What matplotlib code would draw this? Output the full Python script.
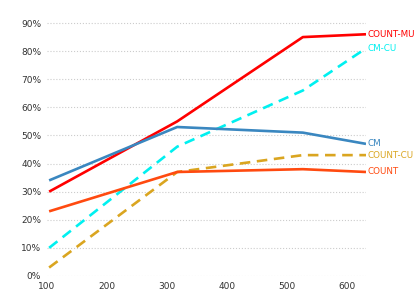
import matplotlib.pyplot as plt
from matplotlib.ticker import PercentFormatter

# data
x = [104, 317, 526, 631]
count_mu = [0.30, 0.55, 0.85, 0.86]
cm_cu = [0.10, 0.46, 0.66, 0.81]
cm = [0.34, 0.53, 0.51, 0.47]
count_cu = [0.03, 0.37, 0.43, 0.43]
count = [0.23, 0.37, 0.38, 0.37]

series = [
    ('COUNT-MU', count_mu, '#ff0000', '-'),
    ('CM-CU', cm_cu, '#00f0f0', (0, (4, 2.5))),
    ('CM', cm, '#3a87c0', '-'),
    ('COUNT-CU', count_cu, '#daa520', (0, (4, 2.5))),
    ('COUNT', count, '#ff4a10', '-'),
]

fig = plt.figure(figsize=(4.19, 2.99), dpi=100)
ax = fig.add_axes([0.1115, 0.077, 0.762, 0.893])

for name, vals, col, ls in series:
    ax.plot(x, vals, color=col, lw=1.9, linestyle=ls, solid_capstyle='butt')
    ax.annotate(name, (x[-1], vals[-1]), xytext=(1, 0), textcoords='offset points',
                va='center', ha='left', fontsize=6.3, color=col, annotation_clip=False)

ax.set_xlim(x[0], x[-1])
ax.set_ylim(0, 0.95)
ax.set_yticks([i / 10 for i in range(10)])
ax.yaxis.set_major_formatter(PercentFormatter(1.0, decimals=0))
ax.set_xticks([100, 200, 300, 400, 500, 600])
ax.tick_params(length=0, labelsize=6.5, colors='#333333', pad=4)
ax.grid(axis='y', color='#cccccc', linestyle=':', lw=0.8)
ax.set_axisbelow(True)
for s in ax.spines.values():
    s.set_visible(False)

fig.savefig('out.png', dpi=100)
